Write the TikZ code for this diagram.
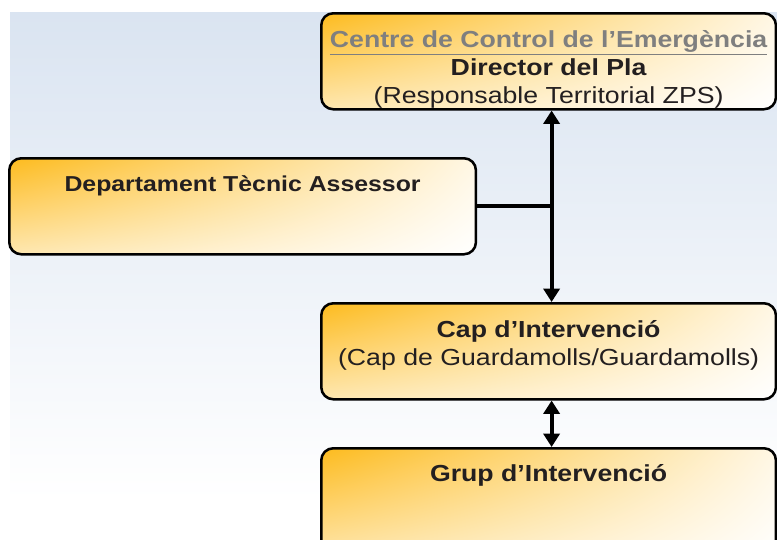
\documentclass[tikz,border=0pt]{standalone}
\usepackage{fontspec}
\setmainfont{Liberation Sans}[FakeStretch=1.15]
\usetikzlibrary{positioning, arrows.meta, calc, shadings}

\definecolor{boxorange}{HTML}{FDBB1E}
\definecolor{bgblue}{HTML}{DAE4F1}
\definecolor{txtdark}{HTML}{231F20}
\definecolor{titlegrey}{HTML}{7F7F7F}

\begin{document}
\begin{tikzpicture}[x=0.75pt, y=0.75pt,
                    box/.style={rectangle, draw=black, line width=1.9pt, rounded corners=9pt,
                                upper left=boxorange, upper right=boxorange!12, lower left=boxorange!35, lower right=white,
                                minimum width=341pt, inner xsep=0pt, inner ysep=0pt, anchor=north west,
                                text height=24.75pt, text depth=47.25pt, align=center, text=txtdark,
                                font=\fontsize{17.4}{21}\selectfont},
                    link/.style={draw=black, line width=3pt},
                    both/.style={link, {Triangle[length=10pt,width=12pt]}-{Triangle[length=10pt,width=12pt]}}]

    \clip (0,0) rectangle (777,-539);
    \shade[top color=bgblue, bottom color=white] (10,-12) rectangle (777,-500);
    \fill[white] (10,-500) rectangle (777,-539);

    % Nodes
    \node[box, text height=67.5pt, text depth=4.5pt] (ctrl) at (320,-12)
        {{\color{titlegrey}\bfseries\underline{Centre de Control de l’Emergència}}\\
         \bfseries Director del Pla\\
         (Responsable Territorial ZPS)};
    \node[box, minimum width=350pt, font=\fontsize{16.2}{21}\bfseries] (dept) at (8,-157) {Departament Tècnic Assessor};
    \node[box, text height=46.5pt, text depth=25.5pt] (cap) at (320,-302)
        {\bfseries Cap d’Intervenció\\
         (Cap de Guardamolls/Guardamolls)};
    \node[box, text depth=60pt] (grup) at (320,-447) {\bfseries Grup d’Intervenció};

    \coordinate (join) at ($(dept.east -| ctrl.south)+(3,0)$);

    % Paths
    \draw[both] ($(ctrl.south)+(3,0)$) -- ($(cap.north)+(3,0)$);
    \draw[link] (dept.east) -- (join);
    \draw[both] ($(cap.south)+(3,0)$) -- ($(grup.north)+(3,0)$);

\end{tikzpicture}
\end{document}
